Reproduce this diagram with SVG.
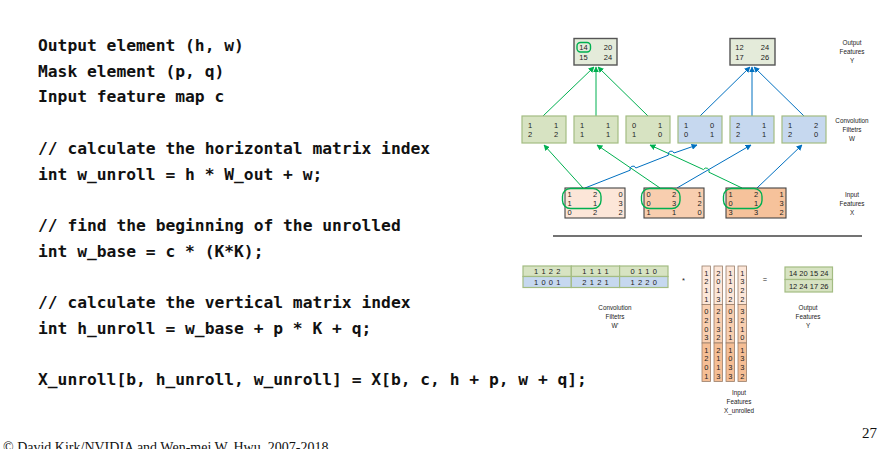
<svg xmlns="http://www.w3.org/2000/svg" width="895" height="449" viewBox="0 0 895 449">
<defs>
<marker id="ag" viewBox="0 0 10 10" refX="9" refY="5" markerWidth="6" markerHeight="6" markerUnits="userSpaceOnUse" orient="auto"><path d="M0,0 L10,5 L0,10 z" fill="#00B050"/></marker>
<marker id="ab" viewBox="0 0 10 10" refX="9" refY="5" markerWidth="6" markerHeight="6" markerUnits="userSpaceOnUse" orient="auto"><path d="M0,0 L10,5 L0,10 z" fill="#0070C0"/></marker>
</defs>
<style>
.code{font-family:"DejaVu Sans Mono","Liberation Mono",monospace;font-weight:bold;font-size:16.3px;fill:#111}
.d{font-family:"Liberation Sans",Arial,sans-serif;font-size:7.5px;fill:#222;text-anchor:middle}
.lab{font-family:"Liberation Sans",Arial,sans-serif;font-size:6.3px;fill:#222;text-anchor:middle}
.fg{fill:#D7E3C2;stroke:#A3BC82;stroke-width:1.2}
.fb{fill:#C6D8EF;stroke:#A3BC82;stroke-width:1.2}
.out{fill:#E4EBDA;stroke:#555;stroke-width:1.4}
.inp{stroke:#444;stroke-width:1.1}
.ov{fill:none;stroke:#00B050;stroke-width:1.4}
.lg{fill:none;stroke:#00B050;stroke-width:1}
.lb{fill:none;stroke:#0070C0;stroke-width:1}
.xu{stroke:#9A7E6A;stroke-width:0.8}
.foot{font-family:"Liberation Serif","Times New Roman",serif;fill:#111}
</style>
<g id="code">
<text class="code" x="38" y="51">Output element (h, w)</text>
<text class="code" x="38" y="76.7">Mask element (p, q)</text>
<text class="code" x="38" y="102.4">Input feature map c</text>
<text class="code" x="38" y="153.8">// calculate the horizontal matrix index</text>
<text class="code" x="38" y="179.5">int w_unroll = h * W_out + w;</text>
<text class="code" x="38" y="230.9">// find the beginning of the unrolled</text>
<text class="code" x="38" y="256.6">int w_base = c * (K*K);</text>
<text class="code" x="38" y="308">// calculate the vertical matrix index</text>
<text class="code" x="38" y="333.7">int h_unroll = w_base + p * K + q;</text>
<text class="code" x="38" y="385.1">X_unroll[b, h_unroll, w_unroll] = X[b, c, h + p, w + q];</text>
</g>
<g id="connectors">
<path class="lg" d="M543,116 L594,67" marker-end="url(#ag)"/>
<path class="lg" d="M596,116 L596,67" marker-end="url(#ag)"/>
<path class="lg" d="M648,116 L598,67" marker-end="url(#ag)"/>
<path class="lb" d="M700,116 L750,67" marker-end="url(#ab)"/>
<path class="lb" d="M752,116 L752,67" marker-end="url(#ab)"/>
<path class="lb" d="M804,116 L754,67" marker-end="url(#ab)"/>
<path class="lg" d="M583,188 L544,145" marker-end="url(#ag)"/>
<path class="lg" d="M660,188 L597,145" marker-end="url(#ag)"/>
<path class="lg" d="M742,188 L708.9,172.2 A3 3 0 0 0 703.5,169.6 L650,145" marker-end="url(#ag)"/>
<path class="lb" d="M585,188 L630.2,170.2 A3 3 0 0 1 635.8,168 L668.4,155.2 A3 3 0 0 1 674,153 L697,145" marker-end="url(#ab)"/>
<path class="lb" d="M677,188 L751,145" marker-end="url(#ab)"/>
<path class="lb" d="M757,188 L802,145" marker-end="url(#ab)"/>
</g>
<g id="out1">
<rect class="out" x="574" y="38.5" width="43" height="26.5"/>
<rect class="ov" x="577" y="42.5" width="13.5" height="9.5" rx="3.5"/>
<text class="d" x="583.5" y="50" font-size="8">14</text><text class="d" x="608" y="50">20</text>
<text class="d" x="583.5" y="59.5">15</text><text class="d" x="608" y="59.5">24</text>
</g>
<g id="out2">
<rect class="out" x="730" y="38.5" width="45" height="26.5"/>
<text class="d" x="739.5" y="50">12</text><text class="d" x="765" y="50">24</text>
<text class="d" x="739.5" y="59.5">17</text><text class="d" x="765" y="59.5">26</text>
</g>
<g id="labelY"><text class="lab" x="852" y="45">Output</text><text class="lab" x="852" y="54">Features</text><text class="lab" x="852" y="63">Y</text></g>
<g id="w1"><rect class="fg" x="522" y="116" width="44" height="27"/><text class="d" x="530" y="128">1</text><text class="d" x="556" y="128">1</text><text class="d" x="530" y="137">2</text><text class="d" x="556" y="137">2</text></g>
<g id="w2"><rect class="fg" x="574" y="116" width="44" height="27"/><text class="d" x="582" y="128">1</text><text class="d" x="608" y="128">1</text><text class="d" x="582" y="137">1</text><text class="d" x="608" y="137">1</text></g>
<g id="w3"><rect class="fg" x="626" y="116" width="44" height="27"/><text class="d" x="634" y="128">0</text><text class="d" x="660" y="128">1</text><text class="d" x="634" y="137">1</text><text class="d" x="660" y="137">0</text></g>
<g id="w4"><rect class="fb" x="678" y="116" width="44" height="27"/><text class="d" x="686" y="128">1</text><text class="d" x="712" y="128">0</text><text class="d" x="686" y="137">0</text><text class="d" x="712" y="137">1</text></g>
<g id="w5"><rect class="fb" x="730" y="116" width="44" height="27"/><text class="d" x="738" y="128">2</text><text class="d" x="764" y="128">1</text><text class="d" x="738" y="137">2</text><text class="d" x="764" y="137">1</text></g>
<g id="w6"><rect class="fb" x="782" y="116" width="44" height="27"/><text class="d" x="790" y="128">1</text><text class="d" x="816" y="128">2</text><text class="d" x="790" y="137">2</text><text class="d" x="816" y="137">0</text></g>
<g id="labelW"><text class="lab" x="852" y="123">Convolution</text><text class="lab" x="852" y="132">Filtetrs</text><text class="lab" x="852" y="141">W</text></g>
<g id="x1"><rect class="inp" fill="#FCE6D8" x="565" y="188" width="60" height="30"/>
<text class="d" x="569.5" y="197">1</text><text class="d" x="595" y="197">2</text><text class="d" x="620.5" y="197">0</text>
<text class="d" x="569.5" y="206">1</text><text class="d" x="595" y="206">1</text><text class="d" x="620.5" y="206">3</text>
<text class="d" x="569.5" y="214.5">0</text><text class="d" x="595" y="214.5">2</text><text class="d" x="620.5" y="214.5">2</text>
<rect class="ov" x="562.5" y="188.5" width="38.5" height="20" rx="8"/></g>
<g id="x2"><rect class="inp" fill="#F8CEAF" x="644" y="188" width="60" height="30"/>
<text class="d" x="648.5" y="197">0</text><text class="d" x="674" y="197">2</text><text class="d" x="699.5" y="197">1</text>
<text class="d" x="648.5" y="206">0</text><text class="d" x="674" y="206">3</text><text class="d" x="699.5" y="206">2</text>
<text class="d" x="648.5" y="214.5">1</text><text class="d" x="674" y="214.5">1</text><text class="d" x="699.5" y="214.5">0</text>
<rect class="ov" x="641.5" y="188.5" width="38.5" height="20" rx="8"/></g>
<g id="x3"><rect class="inp" fill="#F6C29B" x="726" y="188" width="60" height="30"/>
<text class="d" x="730.5" y="197">1</text><text class="d" x="756" y="197">2</text><text class="d" x="781.5" y="197">1</text>
<text class="d" x="730.5" y="206">0</text><text class="d" x="756" y="206">1</text><text class="d" x="781.5" y="206">3</text>
<text class="d" x="730.5" y="214.5">3</text><text class="d" x="756" y="214.5">3</text><text class="d" x="781.5" y="214.5">2</text>
<rect class="ov" x="723.5" y="188.5" width="38.5" height="20" rx="8"/></g>
<g id="labelX"><text class="lab" x="852" y="197">Input</text><text class="lab" x="852" y="206">Features</text><text class="lab" x="852" y="215">X</text></g>
<line x1="553" y1="236" x2="862" y2="236" stroke="#444" stroke-width="1.3"/>
<g id="wunroll">
<rect class="fg" x="523" y="266" width="48.3" height="10.5"/><rect class="fg" x="571.3" y="266" width="48.3" height="10.5"/><rect class="fg" x="619.6" y="266" width="48.4" height="10.5"/>
<rect class="fb" x="523" y="276.5" width="48.3" height="11"/><rect class="fb" x="571.3" y="276.5" width="48.3" height="11"/><rect class="fb" x="619.6" y="276.5" width="48.4" height="11"/>
<g class="d" font-size="7" letter-spacing="0.6"><text x="547.5" y="274">1 1 2 2</text><text x="595.8" y="274">1 1 1 1</text><text x="644" y="274">0 1 1 0</text>
<text x="547.5" y="284.7">1 0 0 1</text><text x="595.8" y="284.7">2 1 2 1</text><text x="644" y="284.7">1 2 2 0</text></g>
<text class="lab" x="615" y="310">Convolution</text><text class="lab" x="615" y="319">Filtetrs</text><text class="lab" x="615" y="328">W'</text>
</g>
<text class="d" x="683.5" y="283" font-size="9">*</text>
<g id="xunroll">
<g class="xu">
<rect fill="#FCE6D8" x="702" y="266" width="8.5" height="38.5"/><rect fill="#F8CEAF" x="702" y="304.5" width="8.5" height="38.5"/><rect fill="#F5BE95" x="702" y="343" width="8.5" height="38.5"/>
<rect fill="#FCE6D8" x="714" y="266" width="8.5" height="38.5"/><rect fill="#F8CEAF" x="714" y="304.5" width="8.5" height="38.5"/><rect fill="#F5BE95" x="714" y="343" width="8.5" height="38.5"/>
<rect fill="#FCE6D8" x="726" y="266" width="8.5" height="38.5"/><rect fill="#F8CEAF" x="726" y="304.5" width="8.5" height="38.5"/><rect fill="#F5BE95" x="726" y="343" width="8.5" height="38.5"/>
<rect fill="#FCE6D8" x="738" y="266" width="8.5" height="38.5"/><rect fill="#F8CEAF" x="738" y="304.5" width="8.5" height="38.5"/><rect fill="#F5BE95" x="738" y="343" width="8.5" height="38.5"/>
</g>
<g class="d" font-size="7">
<text x="706.3" y="275.5">1</text><text x="706.3" y="284.3">2</text><text x="706.3" y="293.1">1</text><text x="706.3" y="301.9">1</text>
<text x="706.3" y="314">0</text><text x="706.3" y="322.8">2</text><text x="706.3" y="331.6">0</text><text x="706.3" y="340.4">3</text>
<text x="706.3" y="352.5">1</text><text x="706.3" y="361.3">2</text><text x="706.3" y="370.1">0</text><text x="706.3" y="378.9">1</text>
<text x="718.3" y="275.5">2</text><text x="718.3" y="284.3">0</text><text x="718.3" y="293.1">1</text><text x="718.3" y="301.9">3</text>
<text x="718.3" y="314">2</text><text x="718.3" y="322.8">1</text><text x="718.3" y="331.6">3</text><text x="718.3" y="340.4">2</text>
<text x="718.3" y="352.5">2</text><text x="718.3" y="361.3">1</text><text x="718.3" y="370.1">1</text><text x="718.3" y="378.9">3</text>
<text x="730.3" y="275.5">1</text><text x="730.3" y="284.3">1</text><text x="730.3" y="293.1">0</text><text x="730.3" y="301.9">2</text>
<text x="730.3" y="314">0</text><text x="730.3" y="322.8">3</text><text x="730.3" y="331.6">1</text><text x="730.3" y="340.4">1</text>
<text x="730.3" y="352.5">1</text><text x="730.3" y="361.3">0</text><text x="730.3" y="370.1">3</text><text x="730.3" y="378.9">3</text>
<text x="742.3" y="275.5">1</text><text x="742.3" y="284.3">3</text><text x="742.3" y="293.1">2</text><text x="742.3" y="301.9">2</text>
<text x="742.3" y="314">3</text><text x="742.3" y="322.8">2</text><text x="742.3" y="331.6">1</text><text x="742.3" y="340.4">0</text>
<text x="742.3" y="352.5">1</text><text x="742.3" y="361.3">3</text><text x="742.3" y="370.1">3</text><text x="742.3" y="378.9">2</text>
</g>
<text class="lab" x="739" y="395">Input</text><text class="lab" x="739" y="404">Features</text><text class="lab" x="739" y="413">X_unrolled</text>
</g>
<text class="d" x="765" y="282" font-size="9">=</text>
<g id="ymat">
<rect class="fg" x="785" y="267" width="47.5" height="12.5"/><rect class="fg" x="785" y="279.5" width="47.5" height="12.5"/>
<text class="d" x="808.7" y="276.3" font-size="7">14 20 15 24</text><text class="d" x="808.7" y="288.5" font-size="7">12 24 17 26</text>
<text class="lab" x="808" y="310">Output</text><text class="lab" x="808" y="319">Features</text><text class="lab" x="808" y="328">Y</text>
</g>
<text class="foot" x="3" y="452" font-size="14">© David Kirk/NVIDIA and Wen-mei W. Hwu, 2007-2018</text>
<text class="foot" x="862" y="438" font-size="15">27</text>
</svg>
